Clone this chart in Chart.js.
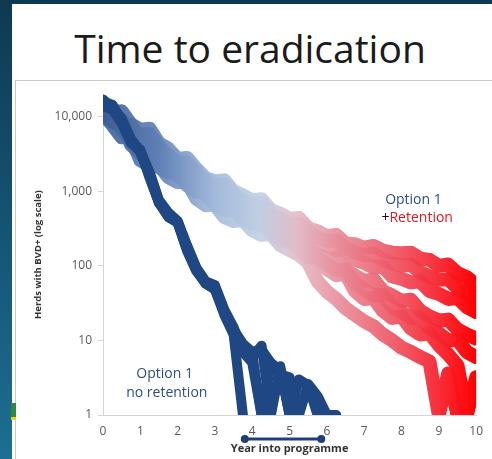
<!DOCTYPE html>
<html>
<head>
<meta charset="utf-8">
<title>Time to eradication</title>
<script src="https://cdn.jsdelivr.net/npm/chart.js@4.4.0/dist/chart.umd.min.js"></script>
<style>
  html, body { margin: 0; padding: 0; }
  body {
    width: 492px; height: 459px; overflow: hidden; position: relative;
    background: linear-gradient(180deg, #0f3953 0%, #17597a 60%, #1c6f93 100%);
    font-family: 'Open Sans', sans-serif;
  }
  #slide { position: absolute; left: 12px; top: 4px; right: 0; bottom: 0; background: #fff; }
  #title {
    position: absolute; left: 12px; top: 26px; width: 476px;
    text-align: center; font-size: 39px; line-height: 44px; color: #1b1b1b;
  }
  #box {
    position: absolute; left: 15px; top: 80px; width: 477px; height: 379px;
    border-left: 1px solid #c9c9c9; border-top: 1px solid #c9c9c9; box-sizing: border-box;
  }
  #mark { position: absolute; left: 11px; top: 403px; width: 5px; height: 14px; background: #2e8b3e; border-bottom: 3px solid #e6d21c; }
  #chart { position: absolute; left: 16px; top: 81px; }
</style>
</head>
<body>
<div id="slide"></div>
<div id="title">Time to eradication</div>
<div id="box"></div>
<div id="mark"></div>
<canvas id="chart" width="476" height="378"></canvas>
<script>
(function () {
    "use strict";

    // Year into programme, quarterly
    var years = [0, 0.25, 0.5, 0.75, 1, 1.25, 1.5, 1.75, 2, 2.25, 2.5, 2.75, 3, 3.25, 3.5, 3.75,
                 4, 4.25, 4.5, 4.75, 5, 5.25, 5.5, 5.75, 6, 6.25, 6.5, 6.75, 7, 7.25, 7.5, 7.75,
                 8, 8.25, 8.5, 8.75, 9, 9.25, 9.5, 9.75, 10];
    var yTicks = [1, 10, 100, 1000, 10000];

    // Option 1, no retention (herds with BVD+)
    var noRetA = [17000, 12500, 8200, 4400, 3600, 1500, 700, 450, 380, 160, 85, 58, 48, 22, 12, 1];
    var noRetB = [14000, 12500, 9500, 5000, 3400, 1800, 760, 520, 400, 190, 95, 62, 55, 26, 15, 7, 5, 1];
    var noRetC = [16000, 14500, 8800, 4800, 3500, 1700, 720, 480, 390, 175, 92, 60, 50, 25, 13, 8, 6, 8.5, 1, 4.5, 1];
    var noRetD = [15000, 13500, 8500, 4600, 3300, 1600, 700, 470, 380, 170, 90, 58, 49, 24, 14, 9, 7, 7.5, 5, 3.5, 3.2, 1, 2.6, 1.8, 1, 1];
    var noRetE = [15500, 13000, 8600, 4700, 3450, 1650, 710, 470, 385, 172, 90, 59, 49, 24, 13, 7.5, 6.5, 1, 5, 4, 1, 3, 2.5, 1];

    // Option 1 + retention
    var retA = [15800, 11500, 11800, 7900, 6700, 6900, 4400, 3700, 2700, 2800, 2000, 1500, 1360, 1400, 1000, 880,
                760, 780, 560, 500, 425, 440, 320, 290, 250, 260, 200, 195, 175, 185, 160, 150,
                148, 150, 125, 120, 100, 104, 80, 70, 56];
    var retB = [14500, 12000, 9000, 6500, 5700, 5900, 4000, 3000, 2400, 2450, 1800, 1400, 1200, 1230, 900, 760,
                670, 690, 500, 420, 360, 370, 290, 240, 215, 220, 175, 150, 140, 145, 120, 108,
                100, 103, 82, 72, 65, 66, 50, 43, 37];
    var retC = [13500, 10500, 7600, 7800, 4900, 3900, 4000, 2500, 2150, 1800, 1850, 1250, 1070, 900, 930, 640,
                590, 500, 510, 350, 310, 270, 280, 200, 185, 160, 165, 120, 110, 95, 98, 72,
                67, 60, 62, 46, 42, 36, 37, 28, 24];
    var retD = [12400, 12800, 6900, 4600, 3850, 3950, 2500, 2100, 1740, 1800, 1200, 950, 830, 860, 590, 510,
                440, 455, 320, 265, 230, 240, 165, 145, 124, 128, 88, 74, 63, 66, 46, 40,
                34, 35, 25, 21, 18.5, 19, 14, 12, 10.6];
    var retE = [12000, 9000, 7000, 4800, 3500, 3000, 3100, 2000, 1600, 1350, 1400, 900, 740, 640, 660, 460,
                400, 340, 350, 240, 210, 180, 185, 125, 106, 88, 90, 58, 48, 40, 41, 28,
                24, 20, 20.5, 14.5, 12.5, 10, 10.2, 7, 6];
    var retF = [11700, 8600, 8800, 4200, 3200, 3300, 2100, 1800, 1850, 1200, 980, 1000, 650, 560, 580, 420,
                370, 380, 270, 220, 225, 165, 130, 135, 91, 75, 78, 46, 36, 37, 25, 20,
                21, 14.5, 12, 12.5, 8.6, 6.5, 4.6, 1, 3.2];
    var retG = [11000, 7800, 5300, 5400, 2600, 2200, 2250, 1550, 1320, 1350, 800, 650, 660, 450, 400, 410,
                300, 260, 265, 190, 163, 140, 110, 62, 45, 36, 27, 22, 18, 15.5, 12, 10,
                8, 7, 6, 5.2, 1, 3.6, 1];

    var noRetRuns = [noRetA, noRetB, noRetC, noRetD, noRetE];
    var retRuns = [retA, retB, retC, retD, retE, retF, retG];

    function points(values) {
        return values.map(function (v, i) { return {x: years[i], y: v}; });
    }

    // blue -> pale -> red along the time axis
    var gradCache = null;
    function retentionColour(context) {
        var chart = context.chart;
        var area = chart.chartArea;
        if (!area) return '#9fb4d4';
        if (gradCache && gradCache.w === area.width) return gradCache.g;
        var g = chart.ctx.createLinearGradient(area.left, 0, area.right, 0);
        g.addColorStop(0.00, 'rgba(59, 92, 150, 0.9)');
        g.addColorStop(0.15, 'rgba(95, 128, 181, 0.9)');
        g.addColorStop(0.30, 'rgba(163, 186, 219, 0.9)');
        g.addColorStop(0.42, 'rgba(192, 207, 228, 0.9)');
        g.addColorStop(0.52, 'rgba(226, 188, 200, 0.9)');
        g.addColorStop(0.62, 'rgba(232, 144, 158, 0.9)');
        g.addColorStop(0.78, 'rgba(238, 83, 98, 0.92)');
        g.addColorStop(0.90, 'rgba(247, 35, 46, 0.95)');
        g.addColorStop(1.00, 'rgba(255, 0, 0, 1)');
        gradCache = {w: area.width, g: g};
        return g;
    }

    var datasets = [];
    noRetRuns.forEach(function (run) {
        datasets.push({
            data: points(run),
            borderColor: '#1f4783',
            borderWidth: 10
        });
    });
    retRuns.forEach(function (run) {
        datasets.push({
            data: points(run),
            borderColor: retentionColour,
            borderWidth: 14
        });
    });

    // Labels and the year bracket
    var notes = {
        id: 'notes',
        afterDatasetsDraw: function (chart) {
            var ctx = chart.ctx;
            var x = chart.scales.x, y = chart.scales.y;
            ctx.save();
            ctx.textAlign = 'center';
            ctx.textBaseline = 'middle';
            ctx.font = "14px 'Open Sans', sans-serif";

            ctx.fillStyle = '#2e4d85';
            ctx.fillText('Option 1', x.getPixelForValue(8.32), y.getPixelForValue(760));
            ctx.fillText('Option 1', x.getPixelForValue(1.65), y.getPixelForValue(3.5));
            ctx.fillText('no retention', x.getPixelForValue(1.71), y.getPixelForValue(1.97));

            var cx = x.getPixelForValue(8.42), cy = y.getPixelForValue(437);
            var wPlus = ctx.measureText('+').width, wRet = ctx.measureText('Retention').width;
            var start = cx - (wPlus + wRet) / 2;
            ctx.textAlign = 'left';
            ctx.fillStyle = '#111';
            ctx.fillText('+', start, cy);
            ctx.fillStyle = '#e8141e';
            ctx.fillText('Retention', start + wPlus, cy);

            // bracket under the axis
            var bx1 = x.getPixelForValue(3.8), bx2 = x.getPixelForValue(5.85), by = y.bottom + 24;
            ctx.strokeStyle = '#1f3f78';
            ctx.fillStyle = '#1f3f78';
            ctx.lineWidth = 3;
            ctx.beginPath();
            ctx.moveTo(bx1, by);
            ctx.lineTo(bx2, by);
            ctx.stroke();
            [bx1, bx2].forEach(function (bx) {
                ctx.beginPath();
                ctx.arc(bx, by, 4, 0, Math.PI * 2);
                ctx.fill();
            });
            ctx.restore();
        }
    };

    Chart.defaults.font.family = "'Open Sans', sans-serif";
    Chart.defaults.color = '#595959';

    var ctx = document.getElementById('chart').getContext('2d');
    var myChart = new Chart(ctx, {
        type: 'line',
        data: {datasets: datasets},
        options: {
            responsive: false,
            animation: false,
            layout: {padding: {top: 11.4, right: 14, bottom: 0, left: 0}},
            elements: {
                point: {radius: 0, hoverRadius: 0},
                line: {tension: 0, borderJoinStyle: 'round', borderCapStyle: 'round', fill: false}
            },
            datasets: {line: {clip: 0}},
            plugins: {legend: {display: false}, tooltip: {enabled: false}},
            scales: {
                x: {
                    type: 'linear',
                    min: 0,
                    max: 10,
                    afterFit: function (scale) { scale.height = 44; },
                    ticks: {stepSize: 1, padding: 9, font: {size: 12}},
                    grid: {drawOnChartArea: false, drawTicks: false},
                    border: {color: '#d4d4d4'},
                    title: {
                        display: true,
                        text: 'Year into programme',
                        color: '#333',
                        font: {size: 11, weight: 'bold'},
                        padding: {top: 0, bottom: 4}
                    }
                },
                y: {
                    type: 'logarithmic',
                    min: 1,
                    max: 20000,
                    afterFit: function (scale) { scale.width = 87; },
                    afterBuildTicks: function (scale) {
                        scale.ticks = yTicks.map(function (v) { return {value: v}; });
                    },
                    ticks: {
                        padding: 6,
                        font: {size: 12},
                        callback: function (v) { return Number(v).toLocaleString('en-US'); }
                    },
                    grid: {drawOnChartArea: false, tickLength: 5, color: '#d4d4d4'},
                    border: {color: '#d4d4d4'},
                    title: {
                        display: true,
                        text: 'Herds with BVD+ (log scale)',
                        color: '#333',
                        font: {size: 9.5, weight: 'bold'},
                        padding: {top: 17, bottom: 0}
                    }
                }
            }
        },
        plugins: [notes]
    });
})();
</script>
</body>
</html>
